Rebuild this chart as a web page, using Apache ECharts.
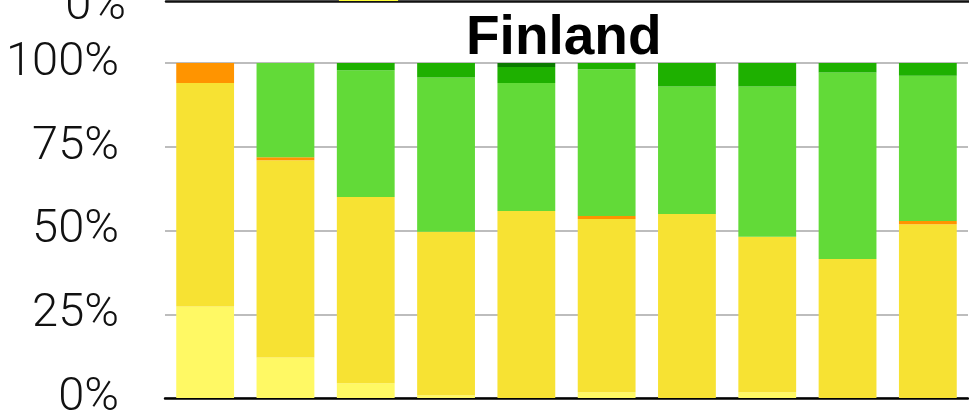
<!DOCTYPE html>
<html>
<head>
    <meta charset="utf-8">
    <title>Finland</title>
    <script src="https://cdn.jsdelivr.net/npm/echarts@6/dist/echarts.min.js"></script>
</head>
<body style="margin:0">
    <div id="main" style="width:969px;height:417px;background:#fff"></div>
    <script type="text/javascript">
        // 10 columns, values in % of the column (bottom -> top)
        var categories = ['1', '2', '3', '4', '5', '6', '7', '8', '9', '10'];
        var lightYellow = [27.3, 12.1, 4.4, 0.8, 0, 1.7, 0, 1.7, 0, 0];
        var yellow      = [66.7, 58.9, 55.6, 48.8, 55.8, 51.7, 54.9, 46.4, 41.5, 51.9];
        var orange      = [6.0, 0.9, 0, 0, 0, 0.9, 0, 0, 0, 0.9];
        var green       = [0, 28.1, 37.8, 46.1, 38.2, 43.8, 38.1, 44.9, 55.7, 43.4];
        var darkGreen   = [0, 0, 2.2, 4.3, 4.8, 1.9, 7.0, 7.0, 2.8, 3.8];
        var darkestGreen = [0, 0, 0, 0, 1.2, 0, 0, 0, 0, 0];
        var yTicks = [0, 25, 50, 75, 100];

        // bottom of the chart above (only its base is visible)
        var prevChartBase = ['-', '-', 5, '-', '-', '-', '-', '-', '-', '-'];

        var colors = ['#fff964', '#f7e233', '#ff9400', '#62da38', '#1eb000', '#0b7a00'];
        var stacks = [lightYellow, yellow, orange, green, darkGreen, darkestGreen];

        var myChart = echarts.init(document.getElementById('main'));

        var series = [];
        for (var i = 0; i < stacks.length; i++) {
            series.push({
                type: 'bar',
                stack: 'total',
                xAxisIndex: 0,
                yAxisIndex: 0,
                barCategoryGap: '28%',
                itemStyle: {color: colors[i]},
                data: stacks[i]
            });
        }
        series.push({
            type: 'bar',
            xAxisIndex: 1,
            yAxisIndex: 1,
            barCategoryGap: '27%',
            itemStyle: {color: '#ffff38'},
            data: prevChartBase
        });

        var labelStyle = {
            formatter: '{value}%',
            fontFamily: 'Roboto',
            fontWeight: 300,
            fontSize: 47,
            color: '#111'
        };

        var option = {
            animation: false,
            title: {
                text: 'Finland',
                left: 461,
                top: 6,
                textStyle: {
                    fontFamily: 'Liberation Sans',
                    fontWeight: 'bold',
                    fontSize: 55,
                    color: '#000'
                }
            },
            grid: [
                {left: 165, right: 1, top: 63, bottom: 19, outerBoundsMode: 'none'},
                {left: 166, top: -299, width: 810, height: 300, outerBoundsMode: 'none'}
            ],
            xAxis: [
                {
                    type: 'category',
                    gridIndex: 0,
                    data: categories,
                    axisLine: {lineStyle: {color: '#000', width: 2.5}},
                    axisTick: {show: false},
                    axisLabel: {show: false}
                },
                {
                    type: 'category',
                    gridIndex: 1,
                    data: categories,
                    axisLine: {lineStyle: {color: '#111', width: 2.5}},
                    axisTick: {show: false},
                    axisLabel: {show: false}
                }
            ],
            yAxis: [
                {
                    type: 'value',
                    gridIndex: 0,
                    min: yTicks[0],
                    max: yTicks[yTicks.length - 1],
                    interval: 25,
                    axisLine: {show: false},
                    axisTick: {show: false},
                    splitLine: {lineStyle: {color: '#bdbdbd', width: 2}},
                    axisLabel: Object.assign({margin: 46}, labelStyle)
                },
                {
                    type: 'value',
                    gridIndex: 1,
                    min: yTicks[0],
                    max: yTicks[yTicks.length - 1],
                    interval: 25,
                    axisLine: {show: false},
                    axisTick: {show: false},
                    splitLine: {show: false},
                    axisLabel: Object.assign({}, labelStyle, {
                        margin: 40,
                        formatter: '{low|{value}%}',
                        rich: {
                            low: {
                                fontFamily: 'Roboto',
                                fontWeight: 300,
                                fontSize: 47,
                                color: '#111',
                                padding: [12, 0, 0, 0]
                            }
                        }
                    })
                }
            ],
            series: series
        };

        myChart.setOption(option);
    </script>
</body>
</html>
